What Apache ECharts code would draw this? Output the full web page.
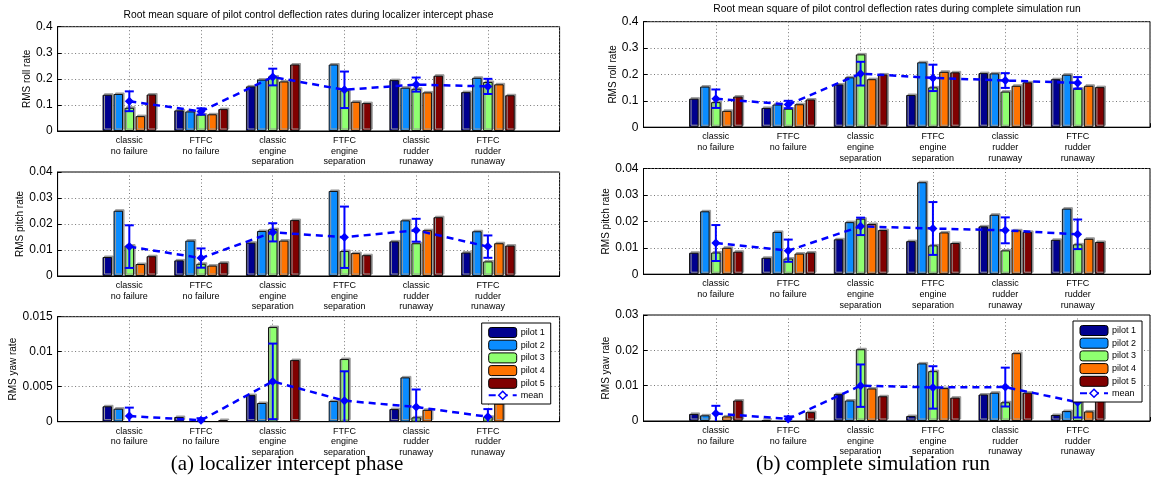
<!DOCTYPE html>
<html><head><meta charset="utf-8">
<script src="https://cdn.jsdelivr.net/npm/echarts@6/dist/echarts.min.js"></script>
<style>html,body{margin:0;padding:0;background:#fff}#c{width:1153px;height:481px}</style>
</head><body><div id="c"></div>
<script>
// ---------- data ----------
const categories = ['classic\nno failure', 'FTFC\nno failure', 'classic\nengine\nseparation',
  'FTFC\nengine\nseparation', 'classic\nrudder\nrunaway', 'FTFC\nrudder\nrunaway'];
const pilotNames = ['pilot 1', 'pilot 2', 'pilot 3', 'pilot 4', 'pilot 5'];

// localizer intercept phase: roll
const locRoll = [
  [0.139, 0.079, 0.171, null, 0.195, 0.149],
  [0.142, 0.075, 0.197, 0.255, 0.166, 0.204],
  [0.089, 0.063, 0.209, 0.156, 0.162, 0.188],
  [0.057, 0.064, 0.190, 0.112, 0.148, 0.179],
  [0.140, 0.084, 0.255, 0.107, 0.212, 0.137]
];
const locRollMean = [0.114, 0.075, 0.207, 0.158, 0.178, 0.171];
const locRollErr = [0.038, 0.012, 0.032, 0.070, 0.027, 0.029];

// localizer intercept phase: pitch
const locPitch = [
  [0.0073, 0.0060, 0.0128, null, 0.0133, 0.0090],
  [0.0251, 0.0136, 0.0173, 0.0327, 0.0214, 0.0172],
  [0.0117, 0.0047, 0.0180, 0.0096, 0.0126, 0.0056],
  [0.0046, 0.0040, 0.0136, 0.0088, 0.0176, 0.0126],
  [0.0076, 0.0051, 0.0215, 0.0080, 0.0226, 0.0117]
];
const locPitchMean = [0.0113, 0.0069, 0.0168, 0.0149, 0.0176, 0.0113];
const locPitchErr = [0.0082, 0.0037, 0.0035, 0.0118, 0.0044, 0.0043];

// localizer intercept phase: yaw
const locYaw = [
  [0.00220, 0.00067, 0.00380, null, 0.00180, 0],
  [0.00186, 0, 0.00267, 0.00295, 0.00633, 0],
  [0, 0, 0.01352, 0.00895, 0.00062, 0.00070],
  [0, 0, 0, 0, 0.00170, 0.00260],
  [0, 0.00024, 0.00880, 0, 0, 0]
];
const locYawMean = [0.00081, 0.00020, 0.00576, 0.00300, 0.00210, 0.00070];
const locYawErr = [0.00120, 0.00030, 0.00540, 0.00420, 0.00250, 0.00110];

// complete simulation run: roll
const fullRoll = [
  [0.108, 0.073, 0.162, 0.122, 0.205, 0.182],
  [0.154, 0.086, 0.189, 0.246, 0.204, 0.199],
  [0.095, 0.070, 0.276, 0.151, 0.135, 0.146],
  [0.062, 0.087, 0.182, 0.210, 0.157, 0.157],
  [0.116, 0.105, 0.200, 0.208, 0.170, 0.152]
];
const fullRollMean = [0.108, 0.086, 0.203, 0.187, 0.177, 0.168];
const fullRollErr = [0.035, 0.014, 0.045, 0.050, 0.028, 0.022];

// complete simulation run: pitch
const fullPitch = [
  [0.0081, 0.0062, 0.0132, 0.0125, 0.0181, 0.0130],
  [0.0238, 0.0160, 0.0197, 0.0348, 0.0225, 0.0248],
  [0.0082, 0.0059, 0.0210, 0.0109, 0.0090, 0.0113],
  [0.0100, 0.0078, 0.0190, 0.0158, 0.0166, 0.0134],
  [0.0085, 0.0082, 0.0167, 0.0118, 0.0160, 0.0122]
];
const fullPitchMean = [0.0118, 0.0089, 0.0181, 0.0173, 0.0166, 0.0151];
const fullPitchErr = [0.0068, 0.0042, 0.0033, 0.0100, 0.0049, 0.0056];

// complete simulation run: yaw
const fullYaw = [
  [0.0020, 0.0003, 0.0076, 0.0014, 0.0075, 0.0017],
  [0.0016, 0, 0.0058, 0.0163, 0.0080, 0.0028],
  [0, 0, 0.0203, 0.0141, 0.0053, 0.0102],
  [0.0013, 0, 0.0092, 0.0093, 0.0192, 0.0027],
  [0.0058, 0.0025, 0.0070, 0.0066, 0.0080, 0.0091]
];
const fullYawMean = [0.0021, 0.0006, 0.0100, 0.0095, 0.0096, 0.0053];
const fullYawErr = [0.0022, 0.0007, 0.0060, 0.0060, 0.0055, 0.0043];

// ---------- layout / style ----------
const pilotColors = ['#00008f', '#0a8cff', '#8fff70', '#ff7300', '#800000'];
const SANS = '"Liberation Sans", Arial, sans-serif';
const SERIF = '"Liberation Serif", "DejaVu Serif", serif';

const panels = [
  {left: 57.6, top: 26.7, width: 502, height: 104.3, max: 0.4, interval: 0.1, name: 'RMS roll rate', vals: locRoll, mean: locRollMean, err: locRollErr},
  {left: 57.6, top: 172, width: 502, height: 104, max: 0.04, interval: 0.01, name: 'RMS pitch rate', vals: locPitch, mean: locPitchMean, err: locPitchErr},
  {left: 57.6, top: 316.7, width: 502, height: 105, max: 0.015, interval: 0.005, name: 'RMS yaw rate', vals: locYaw, mean: locYawMean, err: locYawErr},
  {left: 643.5, top: 21.7, width: 507.3, height: 105.5, max: 0.4, interval: 0.1, name: 'RMS roll rate', vals: fullRoll, mean: fullRollMean, err: fullRollErr},
  {left: 643.5, top: 168.5, width: 507.3, height: 105.7, max: 0.04, interval: 0.01, name: 'RMS pitch rate', vals: fullPitch, mean: fullPitchMean, err: fullPitchErr},
  {left: 643.5, top: 315, width: 507.3, height: 106, max: 0.03, interval: 0.01, name: 'RMS yaw rate', vals: fullYaw, mean: fullYawMean, err: fullYawErr}
];

const axisCats = [''].concat(categories, ['']);
const gridLine = {show: true, lineStyle: {color: '#777', width: 1, type: [1, 2.5]}};

function renderErr(params, api) {
  const x = api.value(0), m = api.value(1), e = api.value(2);
  const lowVal = Math.max(0, m - e);
  const top = api.coord([x, m + e]);
  const bot = api.coord([x, lowVal]);
  const cap = 4.5;
  const st = {stroke: '#0000ff', lineWidth: 2};
  const children = [
    {type: 'line', shape: {x1: top[0], y1: top[1], x2: bot[0], y2: bot[1]}, style: st},
    {type: 'line', shape: {x1: top[0] - cap, y1: top[1], x2: top[0] + cap, y2: top[1]}, style: st}
  ];
  if (m - e >= 0) {
    children.push({type: 'line', shape: {x1: bot[0] - cap, y1: bot[1], x2: bot[0] + cap, y2: bot[1]}, style: st});
  }
  return {type: 'group', children: children};
}

const grids = [], xAxes = [], yAxes = [], series = [];
panels.forEach((p, i) => {
  grids.push({left: p.left, top: p.top, width: p.width, height: p.height, show: true,
    borderColor: '#000', borderWidth: 1, backgroundColor: 'transparent'});
  xAxes.push({type: 'category', gridIndex: i, boundaryGap: false, data: axisCats,
    axisLine: {show: true, lineStyle: {color: '#000', width: 1}},
    axisTick: {show: true, inside: true, length: 4, lineStyle: {color: '#000'}},
    axisLabel: {interval: 0, fontSize: 9, lineHeight: 10.8, margin: 4, color: '#000', fontFamily: SANS},
    splitLine: gridLine});
  yAxes.push({type: 'value', gridIndex: i, min: 0, max: p.max, interval: p.interval,
    name: p.name, nameLocation: 'middle', nameGap: 25, nameRotate: 90,
    nameTextStyle: {fontSize: 10, color: '#000', fontFamily: SANS},
    axisLine: {show: true, lineStyle: {color: '#000', width: 1}},
    axisTick: {show: true, inside: true, length: 4, lineStyle: {color: '#000'}},
    axisLabel: {fontSize: 12, color: '#000', margin: 5, fontFamily: SANS},
    splitLine: gridLine});
  p.vals.forEach((v, k) => {
    // zero-height bars are not visible in the reference: leave them empty
    const d = v.map(val => (val === 0 ? null : val));
    series.push({type: 'bar', name: pilotNames[k], xAxisIndex: i, yAxisIndex: i,
      data: [null].concat(d, [null]), barWidth: 9.5, barGap: '16%',
      itemStyle: {color: pilotColors[k], borderColor: '#111', borderWidth: 1,
        shadowColor: '#9a9a9a', shadowOffsetX: 1.5, shadowOffsetY: -1.5, shadowBlur: 0},
      emphasis: {disabled: true}, z: 2});
  });
  series.push({type: 'line', name: 'mean', xAxisIndex: i, yAxisIndex: i,
    data: [null].concat(p.mean, [null]),
    lineStyle: {color: '#0000ff', width: 2.5, type: [7, 5]},
    symbol: 'diamond', symbolSize: 9, itemStyle: {color: '#0000ff'},
    emphasis: {disabled: true}, z: 5});
  series.push({type: 'custom', xAxisIndex: i, yAxisIndex: i,
    data: p.mean.map((m, j) => [j + 1, m, p.err[j]]),
    encode: {x: 0, y: 1}, renderItem: renderErr, z: 6, silent: true});
});

const legendBase = {
  orient: 'vertical', selectedMode: false,
  data: pilotNames.concat([{name: 'mean', itemStyle: {color: '#ffffff', borderColor: '#0000ff', borderWidth: 1.5}}]),
  backgroundColor: '#fff', borderColor: '#000', borderWidth: 1,
  padding: [4, 6, 4, 6], itemWidth: 28, itemHeight: 10, itemGap: 1.7,
  itemStyle: {borderColor: '#000', borderWidth: 1, shadowBlur: 0, shadowOffsetX: 0, shadowOffsetY: 0, shadowColor: 'rgba(0,0,0,0)'},
  textStyle: {fontSize: 9, color: '#000', fontFamily: SANS, padding: [0, 0, 0, -1]},
  z: 20
};

const option = {
  animation: false,
  backgroundColor: '#fff',
  grid: grids, xAxis: xAxes, yAxis: yAxes, series: series,
  legend: [
    Object.assign({}, legendBase, {left: 481.7, top: 323}),
    Object.assign({}, legendBase, {left: 1073, top: 321})
  ],
  graphic: [
    {type: 'text', x: 308.5, y: 15, style: {text: 'Root mean square of pilot control deflection rates during localizer intercept phase', font: '10.3px ' + SANS, textAlign: 'center', textVerticalAlign: 'middle', fill: '#000'}},
    {type: 'text', x: 897, y: 9.5, style: {text: 'Root mean square of pilot control deflection rates during complete simulation run', font: '10.3px ' + SANS, textAlign: 'center', textVerticalAlign: 'middle', fill: '#000'}},
    {type: 'text', x: 287, y: 464, style: {text: '(a) localizer intercept phase', font: '21px ' + SERIF, textAlign: 'center', textVerticalAlign: 'middle', fill: '#000'}},
    {type: 'text', x: 873, y: 464, style: {text: '(b) complete simulation run', font: '21px ' + SERIF, textAlign: 'center', textVerticalAlign: 'middle', fill: '#000'}}
  ]
};

const chart = echarts.init(document.getElementById('c'), null, {renderer: 'canvas'});
chart.setOption(option);
</script>
</body></html>
